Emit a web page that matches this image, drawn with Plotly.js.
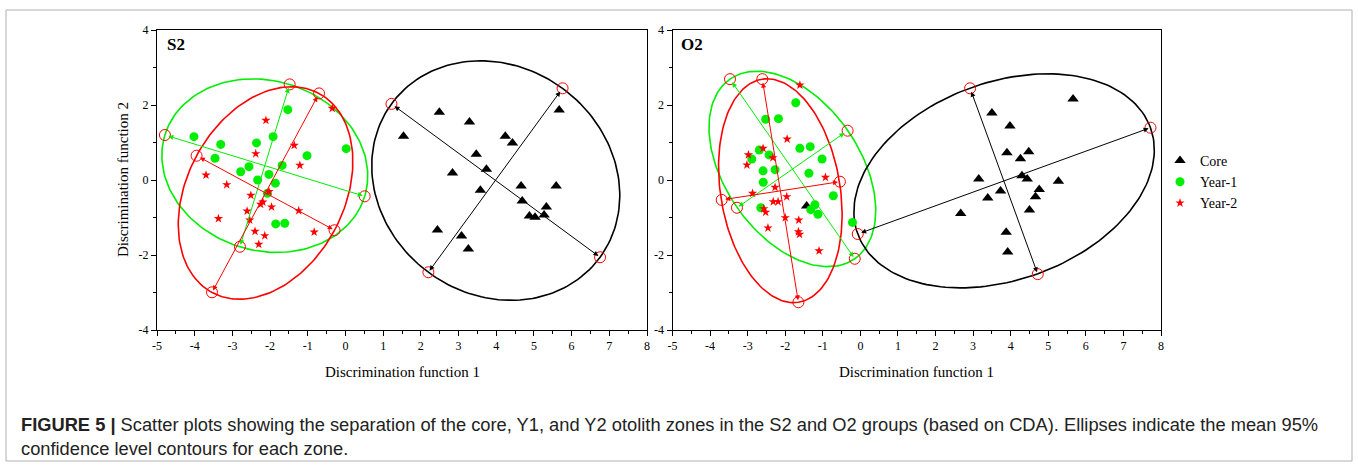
<!DOCTYPE html>
<html>
<head>
<meta charset="utf-8">
<script src="https://cdn.plot.ly/plotly-3.0.1.min.js"></script>
<style>html,body{margin:0;padding:0;background:#fff;}#chart{width:1358px;height:467px;}</style>
</head>
<body>
<div id="chart"></div>
<script>
// ---------- DATA : panel S2 ----------
const s2CoreX = [2.49, 3.29, 1.54, 4.24, 4.43, 5.67, 3.47, 3.74, 2.84, 4.66, 5.59, 3.58, 4.69, 5.33, 4.88, 5.03, 5.27, 2.44, 3.08, 3.26];
const s2CoreY = [1.81, 1.55, 1.17, 1.17, 0.99, 1.87, 0.69, 0.29, 0.19, -0.16, -0.16, -0.27, -0.56, -0.72, -0.96, -0.99, -0.93, -1.33, -1.49, -1.84];
const s2Y1X = [-4.02, -3.31, -3.46, -2.36, -1.92, -1.53, -1.02, 0.02, -2.56, -2.78, -2.03, -1.68, -2.33, -1.86, -2.07, -1.85, -1.61];
const s2Y1Y = [1.155, 0.95, 0.58, 0.99, 1.155, 1.875, 0.65, 0.835, 0.355, 0.22, 0.15, 0.39, 0.0, -0.085, -0.355, -1.17, -1.155];
const s2Y2X = [-2.11, -2.38, -1.36, -1.21, -0.35, -3.70, -3.15, -2.51, -2.03, -2.19, -2.25, -1.96, -2.61, -3.37, -2.54, -1.24, -2.40, -2.14, -2.30, -0.83];
const s2Y2Y = [1.59, 0.70, 0.925, 0.39, 1.91, 0.13, -0.125, -0.41, -0.31, -0.59, -0.65, -0.72, -0.83, -1.03, -1.07, -0.82, -1.37, -1.485, -1.715, -1.39];
// ellipse axis end points: [axisA start, axisA end, axisB start, axisB end]
const s2CoreEllX = [1.22, 6.755, 5.76, 2.20];
const s2CoreEllY = [2.03, -2.06, 2.445, -2.46];
const s2Y1EllX = [-4.79, 0.51, -1.48, -2.80];
const s2Y1EllY = [1.20, -0.435, 2.55, -1.78];
const s2Y2EllX = [-3.95, -0.29, -0.70, -3.54];
const s2Y2EllY = [0.648, -1.34, 2.31, -2.995];

// ---------- DATA : panel O2 ----------
const o2CoreX = [5.66, 3.50, 3.98, 3.90, 4.48, 4.26, 3.15, 4.30, 4.44, 5.27, 3.73, 3.39, 4.76, 4.66, 2.67, 4.50, 3.88, 3.92, -1.43];
const o2CoreY = [2.16, 1.79, 1.44, 0.73, 0.755, 0.57, 0.03, 0.115, 0.03, -0.03, -0.29, -0.48, -0.25, -0.445, -0.89, -0.80, -1.39, -1.92, -0.69];
const o2Y1X = [-1.72, -2.52, -2.18, -1.61, -1.335, -2.69, -2.43, -2.89, -1.02, -2.59, -2.27, -1.37, -2.585, -0.72, -1.21, -1.32, -1.13, -2.65, -0.21];
const o2Y1Y = [2.06, 1.62, 1.635, 0.845, 0.89, 0.80, 0.67, 0.56, 0.56, 0.245, 0.275, 0.18, -0.06, -0.42, -0.66, -0.79, -0.915, -0.74, -1.13];
const o2Y2X = [-1.61, -1.95, -2.98, -3.02, -2.59, -2.33, -0.93, -2.27, -2.87, -2.32, -2.19, -1.96, -2.57, -2.52, -2.00, -1.64, -2.46, -1.65, -1.62, -1.10];
const o2Y2Y = [2.53, 1.09, 0.67, 0.40, 0.845, 0.595, 0.07, -0.195, -0.355, -0.58, -0.58, -0.445, -0.765, -0.86, -1.005, -1.07, -1.28, -1.38, -1.45, -1.89];
const o2CoreEllX = [-0.07, 7.72, 2.92, 4.72];
const o2CoreEllY = [-1.44, 1.395, 2.445, -2.51];
const o2Y1EllX = [-3.47, -0.15, -0.34, -3.285];
const o2Y1EllY = [2.69, -2.10, 1.315, -0.74];
const o2Y2EllX = [-2.61, -1.65, -3.69, -0.545];
const o2Y2EllY = [2.69, -3.26, -0.53, -0.045];

// ---------- TICKS / TEXT ----------
const xTickVals = [-5, -4, -3, -2, -1, 0, 1, 2, 3, 4, 5, 6, 7, 8];
const xTickText = ['-5', '-4', '-3', '-2', '-1', '0', '1', '2', '3', '4', '5', '6', '7', '8'];
const yTickVals = [-4, -2, 0, 2, 4];
const yTickText = ['-4', '-2', '0', '2', '4'];
const seriesNames = ['Core', 'Year-1', 'Year-2'];
const panelLabels = ['S2', 'O2'];
const xTitle = 'Discrimination function 1';
const yTitle = 'Discrimination function 2';
const captionBold = 'FIGURE 5 |';
const captionLine1 = ' Scatter plots showing the separation of the core, Y1, and Y2 otolith zones in the S2 and O2 groups (based on CDA). Ellipses indicate the mean 95%';
const captionLine2 = 'confidence level contours for each zone.';

// ---------- STYLE ----------
const BLACK = '#000000', GREEN = '#00ee00', RED = '#ff0000';
const SERIF = 'Liberation Serif, Times New Roman, serif';
const SANS = 'Liberation Sans, Arial, sans-serif';

const traces = [];
const annotations = [];

function ellipseCurve(ex, ey) {
  const cx = (ex[0] + ex[1]) / 2, cy = (ey[0] + ey[1]) / 2;
  const ux = (ex[1] - ex[0]) / 2, uy = (ey[1] - ey[0]) / 2;
  const vx = (ex[3] - ex[2]) / 2, vy = (ey[3] - ey[2]) / 2;
  const xs = [], ys = [];
  for (let i = 0; i <= 180; i++) {
    const t = 2 * Math.PI * i / 180;
    xs.push(cx + ux * Math.cos(t) + vx * Math.sin(t));
    ys.push(cy + uy * Math.cos(t) + vy * Math.sin(t));
  }
  return [xs, ys];
}

function addEllipse(ex, ey, color, xa, ya) {
  const [xs, ys] = ellipseCurve(ex, ey);
  traces.push({x: xs, y: ys, xaxis: xa, yaxis: ya, mode: 'lines', showlegend: false,
    hoverinfo: 'skip', line: {color: color, width: 1.6}});
  const xr = xa === 'x' ? 'x' : 'x2', yr = ya === 'y' ? 'y' : 'y2';
  for (const [a, b] of [[0, 1], [2, 3]]) {
    annotations.push({x: ex[b], y: ey[b], ax: ex[a], ay: ey[a], xref: xr, yref: yr, axref: xr, ayref: yr,
      text: '', showarrow: true, arrowhead: 2, startarrowhead: 2, arrowside: 'end+start',
      arrowsize: 1, startarrowsize: 1, arrowwidth: 1, arrowcolor: color, standoff: 2, startstandoff: 2});
  }
  traces.push({x: ex, y: ey, xaxis: xa, yaxis: ya, mode: 'markers', showlegend: false, hoverinfo: 'skip',
    marker: {symbol: 'circle-open', size: 11, color: RED, line: {width: 1, color: RED}}});
}

function addPanel(cx, cy, y1x, y1y, y2x, y2y, eCore, eY1, eY2, xa, ya, legend) {
  addEllipse(eY1[0], eY1[1], GREEN, xa, ya);
  addEllipse(eY2[0], eY2[1], RED, xa, ya);
  addEllipse(eCore[0], eCore[1], BLACK, xa, ya);
  traces.push({x: cx, y: cy, xaxis: xa, yaxis: ya, mode: 'markers', name: seriesNames[0], showlegend: legend,
    marker: {symbol: 'triangle-up', size: 10, color: BLACK}});
  traces.push({x: y1x, y: y1y, xaxis: xa, yaxis: ya, mode: 'markers', name: seriesNames[1], showlegend: legend,
    marker: {symbol: 'circle', size: 9, color: GREEN}});
  traces.push({x: y2x, y: y2y, xaxis: xa, yaxis: ya, mode: 'markers', name: seriesNames[2], showlegend: legend,
    marker: {symbol: 'star', size: 7, color: RED}});
}

addPanel(s2CoreX, s2CoreY, s2Y1X, s2Y1Y, s2Y2X, s2Y2Y,
  [s2CoreEllX, s2CoreEllY], [s2Y1EllX, s2Y1EllY], [s2Y2EllX, s2Y2EllY], 'x', 'y', true);
addPanel(o2CoreX, o2CoreY, o2Y1X, o2Y1Y, o2Y2X, o2Y2Y,
  [o2CoreEllX, o2CoreEllY], [o2Y1EllX, o2Y1EllY], [o2Y2EllX, o2Y2EllY], 'x2', 'y2', false);

const W = 1358, H = 467;
const px = v => v / W, py = v => (H - v) / H;
const dom1 = [px(157), px(647)], dom2 = [px(672.5), px(1161)], ydom = [py(330), py(30)];

function xaxisDef(dom, anchor) {
  return {domain: dom, anchor: anchor, range: [-5, 8], tickmode: 'array', tickvals: xTickVals, ticktext: xTickText,
    showgrid: false, zeroline: false,
    showline: true, mirror: true, linecolor: '#000', linewidth: 1, ticks: 'outside', ticklen: 5, tickcolor: '#000',
    tickfont: {family: SERIF, size: 12, color: '#000'},
    minor: {tickmode: 'linear', tick0: 0, dtick: 0.5, ticks: 'outside', ticklen: 3, tickcolor: '#000', showgrid: false}};
}
function yaxisDef(anchor) {
  return {domain: ydom, anchor: anchor, range: [-4, 4], tickmode: 'array', tickvals: yTickVals, ticktext: yTickText,
    showgrid: false, zeroline: false,
    showline: true, mirror: true, linecolor: '#000', linewidth: 1, ticks: 'outside', ticklen: 5, tickcolor: '#000',
    tickfont: {family: SERIF, size: 12, color: '#000'},
    minor: {tickmode: 'linear', tick0: 0, dtick: 1, ticks: 'outside', ticklen: 3, tickcolor: '#000', showgrid: false}};
}

// axis titles, panel labels, caption
annotations.push({xref: 'paper', yref: 'paper', x: (dom1[0] + dom1[1]) / 2, y: py(372), text: xTitle, showarrow: false,
  xanchor: 'center', yanchor: 'middle', font: {family: SERIF, size: 15, color: '#000'}});
annotations.push({xref: 'paper', yref: 'paper', x: (dom2[0] + dom2[1]) / 2, y: py(372), text: xTitle, showarrow: false,
  xanchor: 'center', yanchor: 'middle', font: {family: SERIF, size: 15, color: '#000'}});
annotations.push({xref: 'paper', yref: 'paper', x: px(123), y: py(180), text: yTitle, showarrow: false, textangle: -90,
  xanchor: 'center', yanchor: 'middle', font: {family: SERIF, size: 15, color: '#000'}});
annotations.push({xref: 'paper', yref: 'paper', x: px(165), y: py(45), text: '<b>' + panelLabels[0] + '</b>', showarrow: false,
  xanchor: 'left', yanchor: 'middle', font: {family: SERIF, size: 17, color: '#000'}});
annotations.push({xref: 'paper', yref: 'paper', x: px(679), y: py(45), text: '<b>' + panelLabels[1] + '</b>', showarrow: false,
  xanchor: 'left', yanchor: 'middle', font: {family: SERIF, size: 17, color: '#000'}});
annotations.push({xref: 'paper', yref: 'paper', x: px(19), y: py(424), text: '<b>' + captionBold + '</b>' + captionLine1, showarrow: false,
  xanchor: 'left', yanchor: 'middle', font: {family: SANS, size: 18.3, color: '#222'}});
annotations.push({xref: 'paper', yref: 'paper', x: px(19), y: py(448), text: captionLine2, showarrow: false,
  xanchor: 'left', yanchor: 'middle', font: {family: SANS, size: 18.3, color: '#222'}});

const layout = {
  width: W, height: H, margin: {l: 0, r: 0, t: 0, b: 0}, paper_bgcolor: '#fff', plot_bgcolor: '#fff',
  xaxis: xaxisDef(dom1, 'y'), yaxis: yaxisDef('x'),
  xaxis2: xaxisDef(dom2, 'y2'), yaxis2: yaxisDef('x2'),
  showlegend: true,
  legend: {x: px(1160), y: py(145), xanchor: 'left', yanchor: 'top', bgcolor: 'rgba(0,0,0,0)',
    font: {family: SERIF, size: 14, color: '#000'}, itemwidth: 30, tracegroupgap: 0},
  annotations: annotations,
  shapes: [{type: 'rect', xref: 'paper', yref: 'paper', x0: px(6), x1: px(1352), y0: py(461), y1: py(10),
    line: {color: '#b0b0b0', width: 1}}]
};

Plotly.newPlot('chart', traces, layout, {displayModeBar: false, staticPlot: true});
</script>
</body>
</html>
